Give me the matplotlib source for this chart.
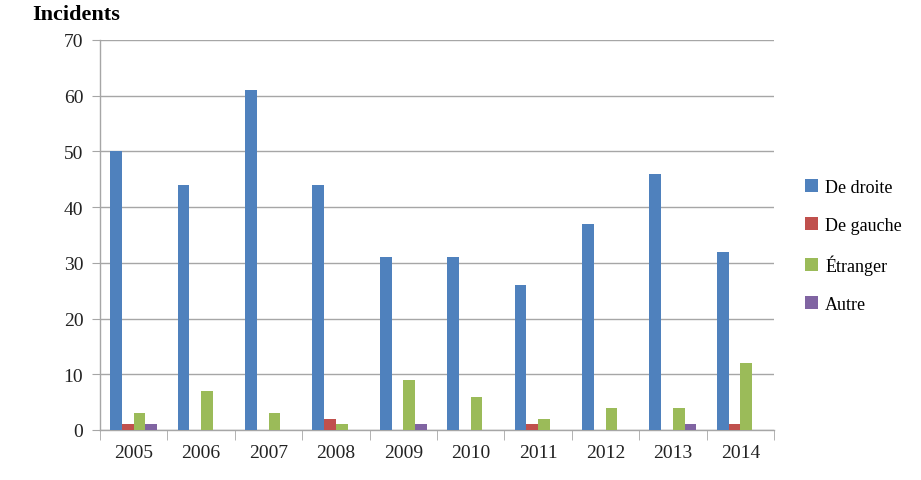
import numpy as np
import matplotlib
matplotlib.use("Agg")
import matplotlib.pyplot as plt
from matplotlib.patches import Patch

plt.rcParams['font.family'] = ['Liberation Serif', 'DejaVu Serif']

years = ['2005', '2006', '2007', '2008', '2009', '2010', '2011', '2012', '2013', '2014']
droite = [50, 44, 61, 44, 31, 31, 26, 37, 46, 32]
gauche = [1, 0, 0, 2, 0, 0, 1, 0, 0, 1]
etranger = [3, 7, 3, 1, 9, 6, 2, 4, 4, 12]
autre = [1, 0, 0, 0, 1, 0, 0, 0, 1, 0]

series_names = ['De droite', 'De gauche', 'Étranger', 'Autre']
colors = ['#4F81BD', '#C0504D', '#9BBB59', '#8064A2']

fig = plt.figure(figsize=(9.21, 4.81), dpi=100)
ax = fig.add_axes([100 / 921, 1 - 431 / 481, 674 / 921, 390 / 481])

x = np.arange(len(years))
w = 0.175
for i, (vals, col) in enumerate(zip([droite, gauche, etranger, autre], colors)):
    ax.bar(x + (i - 1.5) * w, vals, width=w, color=col, zorder=3)

ax.set_xlim(-0.5, len(years) - 0.5)
ax.set_ylim(0, 70)
ax.set_yticks(range(0, 71, 10))
ax.yaxis.grid(True, color='#A6A6A6', linewidth=1.0, zorder=0)

# Excel-style category boundary ticks
ax.set_xticks(x)
ax.set_xticklabels(years)
ax.set_xticks(np.arange(-0.5, len(years), 1.0), minor=True)
ax.tick_params(axis='x', which='major', length=0, pad=10, labelsize=14, labelcolor='#222222')
ax.tick_params(axis='x', which='minor', length=7, color='#A6A6A6', direction='out')
ax.tick_params(axis='y', length=6, color='#A6A6A6', direction='out', labelsize=14, pad=6,
               labelcolor='#222222')

for s in ['top', 'right']:
    ax.spines[s].set_visible(False)
for s in ['left', 'bottom']:
    ax.spines[s].set_color('#A6A6A6')
    ax.spines[s].set_linewidth(1.0)

handles = [Patch(facecolor=c, label=n) for c, n in zip(colors, series_names)]
fig.legend(handles=handles, loc='center left', bbox_to_anchor=(789 / 921, 1 - 247 / 481),
           frameon=False, fontsize=13, handlelength=0.7, handleheight=0.7,
           handletextpad=0.4, labelspacing=1.15)

fig.text(32 / 921, 1 - 15 / 481, 'Incidents', fontsize=16, fontweight='bold', va='center', ha='left')

fig.savefig('out.png', dpi=100)
